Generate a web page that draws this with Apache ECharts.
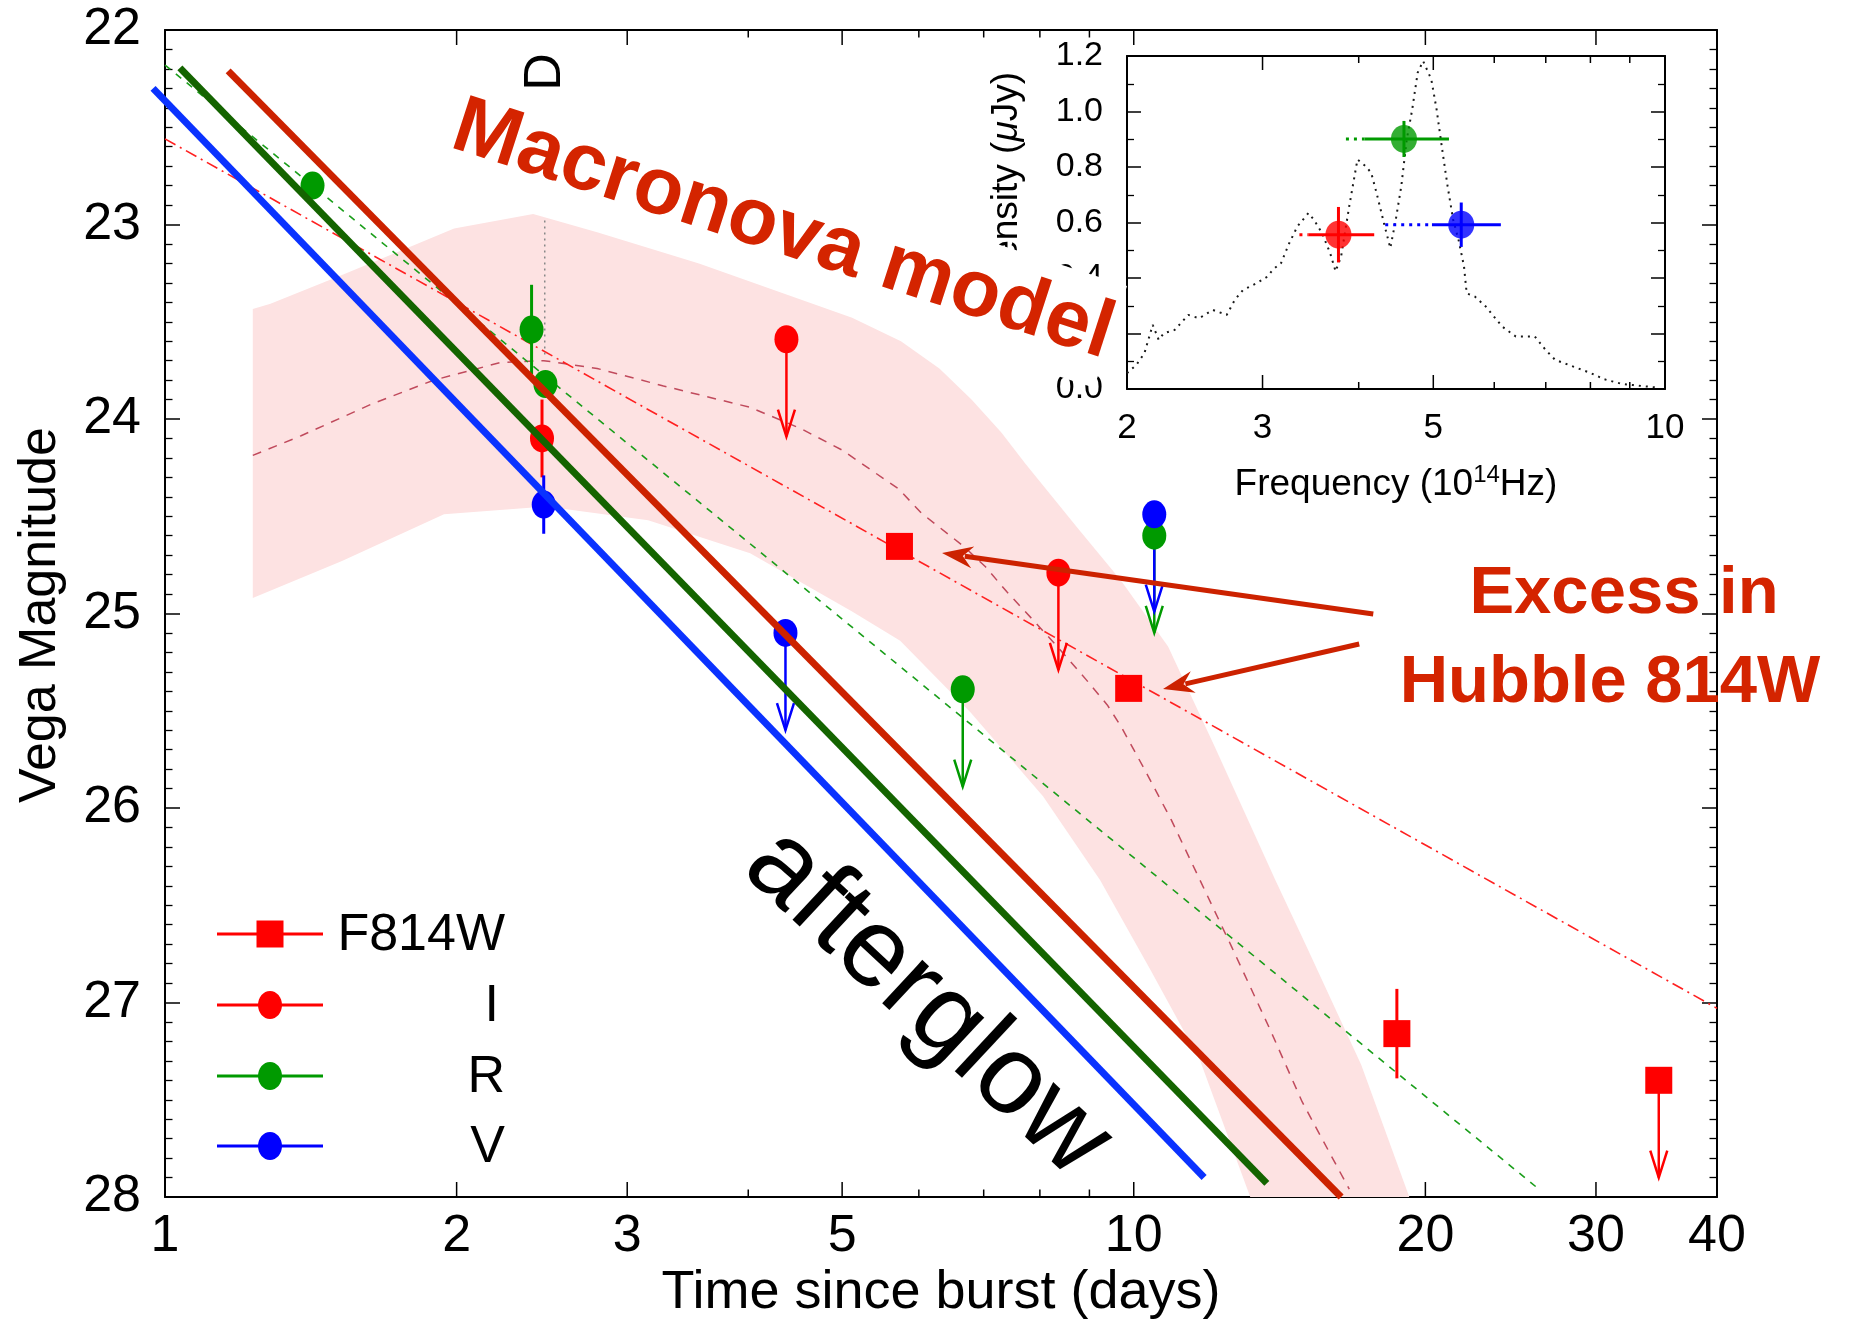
<!DOCTYPE html>
<html>
<head>
<meta charset="utf-8">
<script src="https://cdn.jsdelivr.net/npm/echarts@6.0.0/dist/echarts.min.js"></script>
<style>
html,body{margin:0;padding:0;background:#ffffff;}
#chart{width:1856px;height:1322px;}
</style>
</head>
<body>
<div id="chart"></div>
<script>
// ================= MAIN PANEL DATA =================
const X_TICKS_MAJOR = [1, 2, 3, 5, 10, 20, 30, 40];
const X_TICK_LABELS = ['1', '2', '3', '5', '10', '20', '30', '40'];
const X_TICKS_MINOR = [4, 6, 7, 8, 9];
const Y_MIN = 22;
const Y_MAX = 28;

// afterglow power laws (thick solid)
const V_AG_T = [0.972, 11.82];
const V_AG_MAG = [22.30, 27.90];
const R_AG_T = [1.036, 13.72];
const R_AG_MAG = [22.195, 27.93];
const I_AG_T = [1.162, 16.37];
const I_AG_MAG = [22.21, 28.0];

// thin model lines
const R_MODEL_T = [1.0, 26.2];
const R_MODEL_MAG = [22.18, 27.96];
const F814W_MODEL_T = [1.0, 40];
const F814W_MODEL_MAG = [22.56, 27.03];
const MACRONOVA_T = [1.232, 1.382, 1.638, 1.895, 2.218, 2.46, 2.793, 3.27, 4.018, 4.535, 5.0, 5.72, 6.04, 6.68, 7.03, 7.40, 7.86, 8.34, 8.93, 9.39, 9.70, 10.23, 10.93, 11.60, 12.61, 13.83, 14.92, 16.69];
const MACRONOVA_MAG = [24.187, 24.086, 23.921, 23.80, 23.71, 23.70, 23.74, 23.83, 23.94, 24.05, 24.16, 24.36, 24.485, 24.656, 24.76, 24.89, 25.03, 25.17, 25.34, 25.47, 25.58, 25.79, 26.06, 26.33, 26.71, 27.14, 27.51, 27.96];
const EPOCH_T = [2.466, 2.466];
const EPOCH_MAG = [22.98, 23.68];

// macronova model band
const BAND_UP_T = [1.232, 1.285, 1.523, 1.761, 1.988, 2.399, 2.793, 3.558, 5.12, 5.75, 6.3, 6.8, 7.3, 7.73, 8.78, 9.70, 10.85, 12.11, 14.0, 15.07, 17.17, 19.25];
const BAND_UP_MAG = [23.434, 23.407, 23.26, 23.13, 23.02, 22.946, 23.04, 23.20, 23.48, 23.60, 23.74, 23.90, 24.07, 24.23, 24.57, 24.83, 25.17, 25.68, 26.37, 26.71, 27.32, 28.0];
const BAND_LO_T = [1.232, 1.523, 1.941, 2.474, 3.153, 4.018, 5.12, 5.74, 6.79, 8.06, 9.23, 10.4, 11.71, 13.19];
const BAND_LO_MAG = [24.92, 24.73, 24.49, 24.45, 24.52, 24.69, 24.99, 25.14, 25.51, 25.94, 26.37, 26.83, 27.30, 28.0];

// detections
const I_T = [2.45];
const I_MAG = [24.10];
const I_ERR = [0.20];
const R_T = [1.42, 2.39, 2.47];
const R_MAG = [22.80, 23.54, 23.82];
const R_ERR = [0, 0.23, 0];
const V_T = [2.46];
const V_MAG = [24.44];
const V_ERR = [0.15];
const F814W_T = [5.73, 9.88, 18.69];
const F814W_MAG = [24.655, 25.385, 27.16];
const F814W_ERR = [0, 0, 0.23];

// upper limits
const I_LIM_T = [4.38, 8.36];
const I_LIM_MAG = [23.59, 24.79];
const R_LIM_T = [6.66, 10.5];
const R_LIM_MAG = [25.39, 24.60];
const V_LIM_T = [4.37, 10.5];
const V_LIM_MAG = [25.10, 24.49];
const F814W_LIM_T = [34.83];
const F814W_LIM_MAG = [27.40];
const LIMIT_LEN = 0.5;

// "Excess" annotation arrows (data space)
const ARROW_FROM_T = [17.67, 17.09];
const ARROW_FROM_MAG = [25.003, 25.157];
const ARROW_TO_T = [6.34, 10.72];
const ARROW_TO_MAG = [24.689, 25.388];

// ================= INSET DATA =================
const NU_TICKS_MAJOR = [2, 3, 5, 10];
const NU_TICK_LABELS = ['2', '3', '5', '10'];
const NU_TICKS_MINOR = [4, 6, 7, 8, 9];
const NU_SPEC = [2.0, 2.057, 2.107, 2.16, 2.199, 2.233, 2.307, 2.402, 2.482, 2.585, 2.695, 2.761, 2.83, 2.947, 3.044, 3.094, 3.171, 3.25, 3.33, 3.441, 3.498, 3.584, 3.672, 3.733, 3.795, 3.888, 3.985, 4.084, 4.152, 4.22, 4.324, 4.397, 4.469, 4.543, 4.618, 4.694, 4.772, 4.85, 4.97, 5.05, 5.135, 5.219, 5.306, 5.392, 5.481, 5.525, 5.662, 5.85, 6.144, 6.4, 6.776, 7.0, 7.2, 7.68, 8.0, 8.34, 8.8, 9.1, 9.7];
const FLUX_SPEC = [0.057, 0.087, 0.129, 0.231, 0.177, 0.201, 0.213, 0.267, 0.255, 0.285, 0.267, 0.321, 0.357, 0.381, 0.405, 0.43, 0.454, 0.526, 0.586, 0.634, 0.61, 0.562, 0.49, 0.424, 0.478, 0.658, 0.827, 0.803, 0.779, 0.706, 0.586, 0.508, 0.61, 0.73, 0.899, 1.007, 1.14, 1.182, 1.116, 1.007, 0.863, 0.73, 0.61, 0.538, 0.442, 0.345, 0.333, 0.297, 0.225, 0.189, 0.189, 0.14, 0.105, 0.076, 0.058, 0.035, 0.018, 0.014, 0.006];
const SED_NU = [3.765, 4.58, 5.436];
const SED_FLUX = [0.556, 0.901, 0.592];
const SED_FERR = [0.10, 0.065, 0.08];
const SED_NU_LO = [3.44, 4.07, 4.98];
const SED_NU_HI = [4.19, 5.24, 6.12];
const SED_NU_EXT = [3.35, 3.85, 4.33];
const SED_COLORS = ['#ff0000', '#009a00', '#0000ff'];

// legend
const LEGEND_LABELS = ['F814W', 'I', 'R', 'V'];
const LEGEND_COLORS = ['#ff0000', '#ff0000', '#009a00', '#0000ff'];

// ================= STYLE =================
const FONT = 'Liberation Sans';
const C_RED_PT = '#ff0000';
const C_GREEN_PT = '#009a00';
const C_BLUE_PT = '#0000ff';
const C_TEXT_RED = '#d42400';

const chart = echarts.init(document.getElementById('chart'), null, {renderer: 'canvas'});

function pairs(xs, ys) { return xs.map((x, i) => [x, ys[i]]); }

function lineSeries(xs, ys, color, width, type, z, xi, yi) {
  return {
    type: 'line', xAxisIndex: xi || 0, yAxisIndex: yi || 0, data: pairs(xs, ys),
    symbol: 'none', clip: false, z: z, silent: true,
    lineStyle: {color: color, width: width, type: type}
  };
}

function polySeries(xs, ys, color, width, z) {
  return {
    type: 'custom', xAxisIndex: 0, yAxisIndex: 0, z: z, silent: true, clip: false,
    data: [[xs[0], ys[0]]],
    renderItem: function (params, api) {
      const pts = xs.map((x, i) => api.coord([x, ys[i]]));
      return {type: 'polyline', shape: {points: pts}, style: {stroke: color, lineWidth: width, fill: null}};
    }
  };
}

function scatterSeries(xs, ys, color, symbol, size, z) {
  return {
    type: 'scatter', xAxisIndex: 0, yAxisIndex: 0, data: pairs(xs, ys),
    symbol: symbol, symbolSize: size, z: z || 3, silent: true,
    itemStyle: {color: color, opacity: 1}
  };
}

function errSeries(xs, ys, errs, color) {
  return {
    type: 'custom', xAxisIndex: 0, yAxisIndex: 0, z: 3, silent: true,
    data: xs.map((x, i) => [x, ys[i], errs[i]]).filter(d => d[2] > 0),
    renderItem: function (params, api) {
      const x = api.value(0), y = api.value(1), e = api.value(2);
      const a = api.coord([x, y - e]), b = api.coord([x, y + e]);
      return {type: 'line', shape: {x1: a[0], y1: a[1], x2: b[0], y2: b[1]}, style: {stroke: color, lineWidth: 3}};
    }
  };
}

function limitSeries(xs, ys, color) {
  return {
    type: 'custom', xAxisIndex: 0, yAxisIndex: 0, z: 3, silent: true,
    data: pairs(xs, ys),
    renderItem: function (params, api) {
      const x = api.value(0), y = api.value(1);
      const a = api.coord([x, y]), b = api.coord([x, y + LIMIT_LEN]);
      return {type: 'group', children: [
        {type: 'line', shape: {x1: a[0], y1: a[1], x2: b[0], y2: b[1]}, style: {stroke: color, lineWidth: 2.5}},
        {type: 'polyline', shape: {points: [[b[0] - 8.5, b[1] - 27], [b[0], b[1]], [b[0] + 8.5, b[1] - 27]]}, style: {stroke: color, lineWidth: 2.5, fill: null}}
      ]};
    }
  };
}

function xTickSeries(xi, yi, ticks, labels, yBottom, yTop, len, fontSize, labelGap) {
  return {
    type: 'custom', xAxisIndex: xi, yAxisIndex: yi, z: 6, silent: true, clip: false,
    data: ticks.map(t => [t, yBottom]),
    renderItem: function (params, api) {
      const t = api.value(0);
      const pb = api.coord([t, yBottom]);
      const pt = api.coord([t, yTop]);
      const kids = [
        {type: 'line', shape: {x1: pb[0], y1: pb[1], x2: pb[0], y2: pb[1] - len}, style: {stroke: '#000', lineWidth: 1.5}},
        {type: 'line', shape: {x1: pt[0], y1: pt[1], x2: pt[0], y2: pt[1] + len}, style: {stroke: '#000', lineWidth: 1.5}}
      ];
      if (labels) {
        kids.push({type: 'text', x: pb[0], y: pb[1] + labelGap,
          style: {text: labels[params.dataIndex], fontSize: fontSize, fontFamily: FONT, fill: '#000', align: 'center', verticalAlign: 'middle'}});
      }
      return {type: 'group', children: kids};
    }
  };
}

function yAxisDef(grid, min, max, interval, inverse, position, showLabel, fontSize, minorSplit, majorLen, minorLen, fmt) {
  return {
    type: 'value', gridIndex: grid, min: min, max: max, interval: interval, inverse: inverse,
    position: position,
    axisLine: {show: true, onZero: false, lineStyle: {color: '#000', width: 2}},
    axisTick: {show: true, inside: true, length: majorLen, lineStyle: {color: '#000', width: 1.5}},
    minorTick: {show: true, splitNumber: minorSplit, length: minorLen, lineStyle: {color: '#000', width: 1.3}},
    splitLine: {show: false}, minorSplitLine: {show: false},
    axisLabel: {show: showLabel, fontSize: fontSize, fontFamily: FONT, color: '#000', margin: 24, formatter: fmt}
  };
}

function xAxisDef(grid, min, max, position) {
  return {
    type: 'log', logBase: 10, gridIndex: grid, min: min, max: max, position: position,
    axisLine: {show: true, onZero: false, lineStyle: {color: '#000', width: 2}},
    axisTick: {show: false}, axisLabel: {show: false},
    splitLine: {show: false}, minorTick: {show: false}, minorSplitLine: {show: false}
  };
}

const series = [];

// band
series.push({
  type: 'custom', xAxisIndex: 0, yAxisIndex: 0, z: 1, silent: true,
  data: [[BAND_UP_T[0], BAND_UP_MAG[0]]],
  renderItem: function (params, api) {
    const pts = [];
    for (let i = 0; i < BAND_UP_T.length; i++) pts.push(api.coord([BAND_UP_T[i], BAND_UP_MAG[i]]));
    for (let i = BAND_LO_T.length - 1; i >= 0; i--) pts.push(api.coord([BAND_LO_T[i], BAND_LO_MAG[i]]));
    return {type: 'polygon', shape: {points: pts}, style: {fill: '#fde2e2'}};
  }
});

// thin model lines
series.push(lineSeries(MACRONOVA_T, MACRONOVA_MAG, '#c04a5c', 1.5, [9, 8], 2));
series.push(lineSeries(R_MODEL_T, R_MODEL_MAG, '#1a9e1a', 1.6, [7, 7], 2));
series.push(lineSeries(F814W_MODEL_T, F814W_MODEL_MAG, '#ff2020', 1.6, [12, 5, 2, 5], 2));
series.push(lineSeries(EPOCH_T, EPOCH_MAG, '#888888', 1.5, [2, 4], 2));

// error bars
series.push(errSeries(R_T, R_MAG, R_ERR, C_GREEN_PT));
series.push(errSeries(I_T, I_MAG, I_ERR, C_RED_PT));
series.push(errSeries(V_T, V_MAG, V_ERR, C_BLUE_PT));
series.push(errSeries(F814W_T, F814W_MAG, F814W_ERR, C_RED_PT));

// upper-limit arrows
series.push(limitSeries(I_LIM_T, I_LIM_MAG, C_RED_PT));
series.push(limitSeries(R_LIM_T, R_LIM_MAG, C_GREEN_PT));
series.push(limitSeries(V_LIM_T, V_LIM_MAG, C_BLUE_PT));
series.push(limitSeries(F814W_LIM_T, F814W_LIM_MAG, C_RED_PT));

// points
series.push(scatterSeries(R_T, R_MAG, C_GREEN_PT, 'circle', [24, 28]));
series.push(scatterSeries(I_T, I_MAG, C_RED_PT, 'circle', [24, 28]));
series.push(scatterSeries(I_LIM_T, I_LIM_MAG, C_RED_PT, 'circle', [24, 28]));
series.push(scatterSeries(R_LIM_T, R_LIM_MAG, C_GREEN_PT, 'circle', [24, 28]));
series.push(scatterSeries(V_T, V_MAG, C_BLUE_PT, 'circle', [24, 28]));
series.push(scatterSeries(V_LIM_T, V_LIM_MAG, C_BLUE_PT, 'circle', [24, 28]));
series.push(scatterSeries(F814W_T, F814W_MAG, C_RED_PT, 'rect', [27, 27]));
series.push(scatterSeries(F814W_LIM_T, F814W_LIM_MAG, C_RED_PT, 'rect', [27, 27]));

// afterglow lines (drawn on top of points)
series.push(polySeries(V_AG_T, V_AG_MAG, '#0a32ff', 7, 4));
series.push(polySeries(R_AG_T, R_AG_MAG, '#146400', 7, 4));
series.push(polySeries(I_AG_T, I_AG_MAG, '#cc2200', 7, 4));

// annotation arrows
series.push({
  type: 'custom', xAxisIndex: 0, yAxisIndex: 0, z: 5, silent: true,
  data: ARROW_FROM_T.map((t, i) => [t, ARROW_FROM_MAG[i], ARROW_TO_T[i], ARROW_TO_MAG[i]]),
  renderItem: function (params, api) {
    const p0 = api.coord([api.value(0), api.value(1)]);
    const p1 = api.coord([api.value(2), api.value(3)]);
    const dx = p1[0] - p0[0], dy = p1[1] - p0[1];
    const L = Math.sqrt(dx * dx + dy * dy);
    const ux = dx / L, uy = dy / L, px = -uy, py = ux;
    const hl = 27, hw = 11;
    const bx = p1[0] - ux * hl, by = p1[1] - uy * hl;
    return {type: 'group', children: [
      {type: 'line', shape: {x1: p0[0], y1: p0[1], x2: bx + ux * 4, y2: by + uy * 4}, style: {stroke: '#cc2200', lineWidth: 5}},
      {type: 'polygon', shape: {points: [[p1[0], p1[1]], [bx + px * hw - ux * 4, by + py * hw - uy * 4], [bx + ux * 6, by + uy * 6], [bx - px * hw - ux * 4, by - py * hw - uy * 4]]}, style: {fill: '#cc2200'}}
    ]};
  }
});

// main x ticks
series.push(xTickSeries(0, 0, X_TICKS_MAJOR, X_TICK_LABELS, Y_MAX, Y_MIN, 15, 52, 40));
series.push(xTickSeries(0, 0, X_TICKS_MINOR, null, Y_MAX, Y_MIN, 7.5, 52, 40));

// ---- inset ----
series.push(lineSeries(NU_SPEC, FLUX_SPEC, '#1a1a1a', 2, [2, 5], 2, 2, 2));
series.push({
  type: 'custom', xAxisIndex: 2, yAxisIndex: 2, z: 3, silent: true,
  data: SED_NU.map((n, i) => [n, SED_FLUX[i], SED_NU_LO[i], SED_NU_HI[i], SED_NU_EXT[i], SED_FERR[i]]),
  renderItem: function (params, api) {
    const nu = api.value(0), f = api.value(1), lo = api.value(2), hi = api.value(3), ext = api.value(4), fe = api.value(5);
    const c = SED_COLORS[params.dataIndex];
    const a = api.coord([lo, f]), b = api.coord([hi, f]), e = api.coord([ext, f]);
    const t = api.coord([nu, f + fe]), bt = api.coord([nu, f - fe]);
    return {type: 'group', children: [
      {type: 'line', shape: {x1: e[0], y1: e[1], x2: a[0], y2: a[1]}, style: {stroke: c, lineWidth: 3, lineDash: [3, 5]}},
      {type: 'line', shape: {x1: a[0], y1: a[1], x2: b[0], y2: b[1]}, style: {stroke: c, lineWidth: 3}},
      {type: 'line', shape: {x1: t[0], y1: t[1], x2: bt[0], y2: bt[1]}, style: {stroke: c, lineWidth: 3}}
    ]};
  }
});
series.push({
  type: 'scatter', xAxisIndex: 2, yAxisIndex: 2, z: 4, silent: true,
  symbol: 'circle', symbolSize: [26, 28],
  data: SED_NU.map((n, i) => ({value: [n, SED_FLUX[i]], itemStyle: {color: SED_COLORS[i]}}))
});
series.push(xTickSeries(2, 2, NU_TICKS_MAJOR, NU_TICK_LABELS, 0, 1.2, 14, 35, 39));
series.push(xTickSeries(2, 2, NU_TICKS_MINOR, null, 0, 1.2, 7, 35, 39));

// ---- graphics: titles, annotations, legend ----
function txt(x, y, text, size, color, rot, align, valign, extra) {
  const st = {text: text, fontSize: size, fontFamily: FONT, fill: color, align: align || 'center', verticalAlign: valign || 'middle'};
  if (extra) Object.assign(st, extra);
  return {type: 'text', x: x, y: y, rotation: rot || 0, z: 50, style: st};
}

const graphics = [];
graphics.push(txt(41, 615, 'Vega Magnitude', 52, '#000', Math.PI / 2));
graphics.push(txt(941, 1293, 'Time since burst (days)', 54, '#000', 0));
graphics.push(txt(546, 72, 'D', 52, '#000', Math.PI / 2));
graphics.push(txt(927, 1003, 'afterglow', 112, '#000', -43 * Math.PI / 180));
graphics.push(txt(1624, 595, 'Excess in', 67, C_TEXT_RED, 0, 'center', 'middle', {fontWeight: 'bold'}));
graphics.push(txt(1610, 684, 'Hubble 814W', 67, C_TEXT_RED, 0, 'center', 'middle', {fontWeight: 'bold'}));
graphics.push(txt(1396, 485, 'Frequency (10{sup|14}Hz)', 37, '#000', 0, 'center', 'middle',
  {lineHeight: 44, rich: {sup: {fontSize: 24, fontFamily: FONT, fill: '#000', verticalAlign: 'top', lineHeight: 44}}}));
graphics.push(txt(1007, 72, 'Intensity ({it|\u03bc}Jy)', 37, '#000', Math.PI / 2, 'right', 'middle',
  {rich: {it: {fontSize: 37, fontFamily: FONT, fontStyle: 'italic', fill: '#000'}}}));
const macro = txt(1127, 286, 'Macronova model', 81, C_TEXT_RED, -17.9 * Math.PI / 180, 'right', 'top',
  {backgroundColor: '#ffffff', lineHeight: 107, fontWeight: 'bold'});
macro.z = 100;
graphics.push(macro);

// legend
const LEG_Y = [934, 1005, 1076, 1146];
LEGEND_LABELS.forEach(function (lab, i) {
  const y = LEG_Y[i];
  graphics.push({type: 'line', z: 50, shape: {x1: 217, y1: y, x2: 323, y2: y}, style: {stroke: LEGEND_COLORS[i], lineWidth: 3}});
  if (i === 0) {
    graphics.push({type: 'rect', z: 51, shape: {x: 256.5, y: y - 13.5, width: 27, height: 27}, style: {fill: LEGEND_COLORS[i]}});
  } else {
    graphics.push({type: 'ellipse', z: 51, shape: {cx: 270, cy: y, rx: 12, ry: 14}, style: {fill: LEGEND_COLORS[i]}});
  }
  graphics.push(txt(i === 1 ? 499 : 505, y + 2, lab, 52, '#000', 0, 'right', 'middle'));
});

const option = {
  animation: false,
  backgroundColor: '#ffffff',
  grid: [
    {left: 165, top: 30, width: 1552, height: 1167, containLabel: false, outerBoundsMode: 'none'},
    {left: 1127, top: 56, width: 538, height: 333, containLabel: false, outerBoundsMode: 'none'}
  ],
  xAxis: [
    xAxisDef(0, 1, 40, 'bottom'),
    xAxisDef(0, 1, 40, 'top'),
    xAxisDef(1, 2, 10, 'bottom'),
    xAxisDef(1, 2, 10, 'top')
  ],
  yAxis: [
    yAxisDef(0, Y_MIN, Y_MAX, 1, true, 'left', true, 52, 10, 15, 7.5),
    yAxisDef(0, Y_MIN, Y_MAX, 1, true, 'right', false, 52, 10, 15, 7.5),
    yAxisDef(1, 0, 1.2, 0.2, false, 'left', true, 34, 2, 14, 7, function (v) { return v.toFixed(1); }),
    yAxisDef(1, 0, 1.2, 0.2, false, 'right', false, 34, 2, 14, 7)
  ],
  series: series,
  graphic: {elements: graphics}
};
chart.setOption(option);
</script>
</body>
</html>
